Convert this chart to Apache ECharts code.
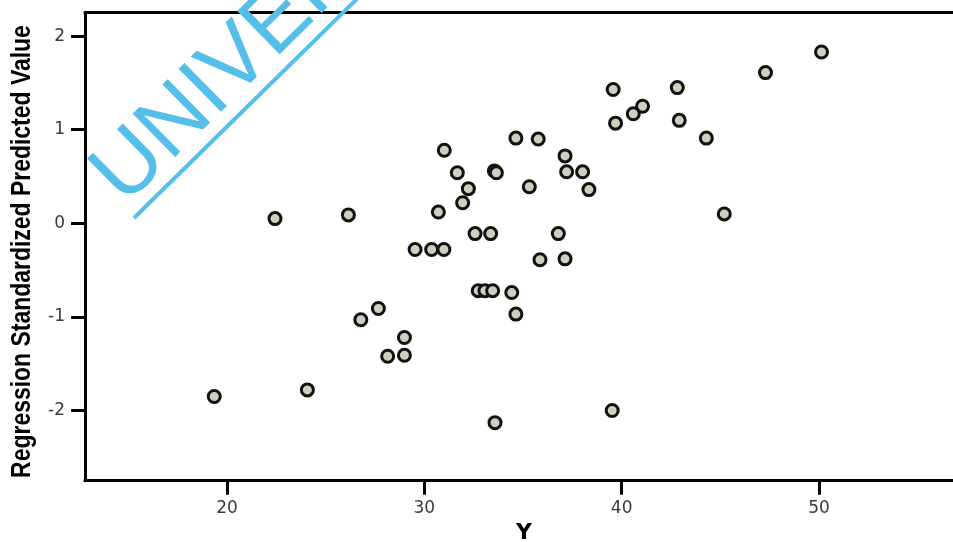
<!DOCTYPE html>
<html>
<head>
<meta charset="utf-8">
<script src="https://cdn.jsdelivr.net/npm/echarts@6/dist/echarts.min.js"></script>
<style>
  html, body { margin: 0; padding: 0; background: #fff; }
  #main { width: 953px; height: 542px; }
</style>
</head>
<body>
<div id="main"></div>
<script>
// observed Y vs regression standardized predicted value
const yObserved = [
  19.35, 22.43, 26.15, 24.07, 26.78, 27.67, 28.99, 28.14, 28.99, 29.53,
  30.37, 30.99, 30.71, 31.01, 31.67, 32.23, 31.94, 32.57, 33.36, 33.55,
  33.65, 34.64, 35.77, 37.13, 37.21, 38.02, 35.32, 38.34, 36.79, 35.86,
  37.13, 32.73, 33.07, 33.46, 34.43, 34.64, 33.58, 39.52, 39.57, 42.82,
  41.06, 40.59, 39.69, 42.92, 44.29, 45.20, 47.29, 50.13
];
const predicted = [
  -1.85, 0.05, 0.09, -1.78, -1.03, -0.91, -1.22, -1.42, -1.41, -0.28,
  -0.28, -0.28, 0.12, 0.78, 0.54, 0.37, 0.22, -0.11, -0.11, 0.56,
  0.54, 0.91, 0.90, 0.72, 0.55, 0.55, 0.39, 0.36, -0.11, -0.39,
  -0.38, -0.72, -0.72, -0.72, -0.74, -0.97, -2.13, -2.00, 1.43, 1.45,
  1.25, 1.17, 1.07, 1.10, 0.91, 0.10, 1.61, 1.83
];
const xTicks = [20, 30, 40, 50];
const yTicks = [-2, -1, 0, 1, 2];

const points = yObserved.map((v, i) => [v, predicted[i]]);

const chartDom = document.getElementById('main');
const myChart = echarts.init(chartDom);

// watermark runs up to the right at about 44.5 degrees
const wmAngle = 44.5 * Math.PI / 180;
const dx = Math.cos(wmAngle), dy = -Math.sin(wmAngle);
const wmSize = 88;
const wmUp = 0.346 * wmSize; // baseline -> middle of em box

const option = {
  animation: false,
  backgroundColor: '#fff',
  grid: {
    left: 85,
    top: 12.7,
    right: -10,
    bottom: 61.3,
    outerBoundsMode: 'none',
    containLabel: false
  },
  xAxis: [
    {
      type: 'value',
      min: 12.8,
      max: 57.3,
      name: 'Y',
      nameLocation: 'middle',
      nameGap: 42,
      nameTextStyle: { fontFamily: 'DejaVu Sans', fontWeight: 'bold', fontSize: 22, color: '#000' },
      axisLine: { show: true, onZero: false, lineStyle: { color: '#000', width: 3 } },
      axisTick: { show: true, customValues: xTicks, length: 14, lineStyle: { color: '#000', width: 3 } },
      axisLabel: { customValues: xTicks, margin: 19, fontFamily: 'DejaVu Sans', fontSize: 17, color: '#3a3a3a' },
      splitLine: { show: false }
    },
    {
      // top frame line only
      type: 'value',
      position: 'top',
      min: 12.8,
      max: 57.3,
      axisLine: { show: true, onZero: false, lineStyle: { color: '#000', width: 3 } },
      axisTick: { show: false },
      axisLabel: { show: false },
      splitLine: { show: false }
    }
  ],
  yAxis: {
    type: 'value',
    min: -2.75,
    max: 2.25,
    axisLine: { show: true, onZero: false, lineStyle: { color: '#000', width: 3 } },
    axisTick: { show: true, customValues: yTicks, length: 14, lineStyle: { color: '#000', width: 3 } },
    axisLabel: { customValues: yTicks, margin: 20, fontFamily: 'DejaVu Sans', fontSize: 17, color: '#3a3a3a' },
    splitLine: { show: false }
  },
  graphic: [
    {
      type: 'text',
      x: 23,
      y: 251.5,
      rotation: Math.PI / 2,
      scaleX: 0.85,
      style: {
        text: 'Regression Standardized Predicted Value',
        fontFamily: 'Liberation Sans',
        fontWeight: 'bold',
        fontSize: 27,
        fill: '#000',
        align: 'center',
        verticalAlign: 'middle'
      }
    },
    {
      type: 'line',
      z: 100,
      shape: { x1: 134, y1: 218, x2: 134 + 500 * dx, y2: 218 + 500 * dy },
      style: { stroke: '#55bee9', lineWidth: 4 }
    },
    {
      type: 'text',
      z: 100,
      x: 129 - wmUp * Math.sin(wmAngle),
      y: 211 - wmUp * Math.cos(wmAngle),
      rotation: wmAngle,
      style: {
        text: 'UNIVERSITAS',
        fontFamily: 'Liberation Sans',
        fontSize: wmSize,
        fill: '#55bee9',
        align: 'left',
        verticalAlign: 'middle'
      }
    }
  ],
  series: [
    {
      type: 'scatter',
      data: points,
      symbol: 'circle',
      symbolSize: 12,
      itemStyle: { color: '#cfcfbf', borderColor: '#111', borderWidth: 3, opacity: 1 }
    }
  ]
};

option && myChart.setOption(option);
</script>
</body>
</html>
